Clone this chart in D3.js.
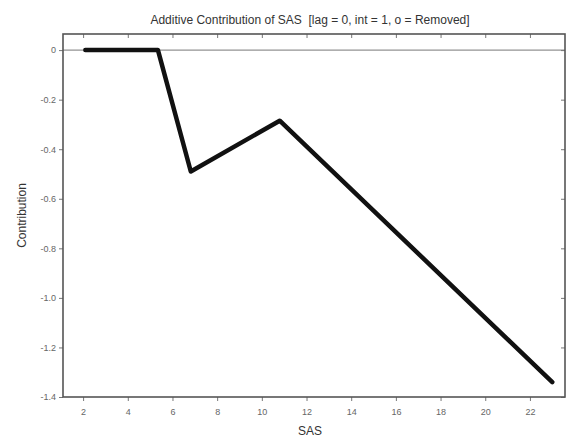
<!DOCTYPE html>
<head>
  <meta charset="utf-8">
  <script src="https://d3js.org/d3.v7.min.js"></script>
  <style>
    body { margin: 0; background: #fff; }
    text { font-family: "Liberation Sans", Arial, sans-serif; }
  </style>
</head>
<body>
  <script>
    // values
    var sasValues = [2.1, 5.35, 6.82, 10.8, 23.0];
    var contribValues = [0, 0, -0.49, -0.285, -1.34];
    var xTicks = [2, 4, 6, 8, 10, 12, 14, 16, 18, 20, 22];
    var yTicks = [0, -0.2, -0.4, -0.6, -0.8, -1.0, -1.2, -1.4];

    var outerWidth = 580, outerHeight = 437;
    var margin = { top: 34, left: 63, right: 15, bottom: 40 };
    var width = outerWidth - margin.left - margin.right,
      height = outerHeight - margin.top - margin.bottom;

    var xScale = d3.scaleLinear().domain([1.1, 23.57]).range([0, width]);
    var yScale = d3.scaleLinear().domain([-1.4, 0.065]).range([height, 0]);

    var svg = d3.select("body").append("svg")
      .attr("width", outerWidth)
      .attr("height", outerHeight);

    var g = svg.append("g")
      .attr("transform", "translate(" + margin.left + "," + margin.top + ")");

    // zero line
    g.append("line")
      .attr("x1", 0).attr("x2", width)
      .attr("y1", yScale(0)).attr("y2", yScale(0))
      .attr("stroke", "#777").attr("stroke-width", 1);

    var fmt = function(d) { return d === 0 ? "0" : "-" + d3.format(".1f")(-d); };

    // axes
    var xAxis = g.append("g")
      .attr("transform", "translate(0," + height + ")")
      .call(d3.axisBottom(xScale).tickValues(xTicks).tickSize(4).tickPadding(8));
    var yAxis = g.append("g")
      .call(d3.axisLeft(yScale).tickValues(yTicks).tickFormat(fmt).tickSize(4).tickPadding(3));
    var xTop = g.append("g")
      .call(d3.axisBottom(xScale).tickValues(xTicks).tickSize(4).tickFormat(""));
    var yRight = g.append("g")
      .attr("transform", "translate(" + width + ",0)")
      .call(d3.axisLeft(yScale).tickValues(yTicks).tickSize(4).tickFormat(""));

    [xAxis, yAxis, xTop, yRight].forEach(function(a) {
      a.select(".domain").remove();
      a.selectAll(".tick line").attr("stroke", "#777");
      a.selectAll("text").attr("fill", "#666").style("font-size", "9px");
    });

    // frame
    g.append("rect")
      .attr("x", 0).attr("y", 0)
      .attr("width", width).attr("height", height)
      .attr("fill", "none").attr("stroke", "#555").attr("stroke-width", 1.6);

    // the line
    var pts = sasValues.map(function(v, i) { return [v, contribValues[i]]; });
    g.append("path")
      .datum(pts)
      .attr("fill", "none")
      .attr("stroke", "#111")
      .attr("stroke-width", 4.5)
      .attr("stroke-linejoin", "round")
      .attr("stroke-linecap", "round")
      .attr("d", d3.line()
        .x(function(d) { return xScale(d[0]); })
        .y(function(d) { return yScale(d[1]); }));

    // labels
    svg.append("text")
      .attr("x", 310).attr("y", 24)
      .attr("text-anchor", "middle")
      .style("font-size", "12px").style("white-space", "pre").attr("fill", "#333")
      .text("Additive Contribution of SAS  [lag = 0, int = 1, o = Removed]");

    svg.append("text")
      .attr("x", 310).attr("y", 435)
      .attr("text-anchor", "middle")
      .style("font-size", "12px").attr("fill", "#333")
      .text("SAS");

    svg.append("text")
      .attr("transform", "translate(26," + (margin.top + height / 2) + ") rotate(-90)")
      .attr("text-anchor", "middle")
      .style("font-size", "12px").attr("fill", "#333")
      .text("Contribution");
  </script>
</body>
